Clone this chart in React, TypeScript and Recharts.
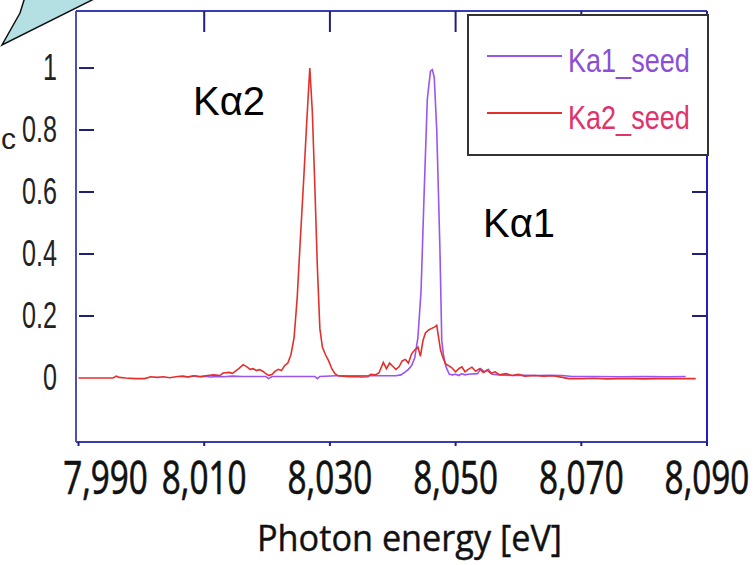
import React from "react";
import { Legend, Line, LineChart, XAxis, YAxis } from "recharts";

const xTicks = [7990, 8010, 8030, 8050, 8070, 8090];
const yTicks = [0, 0.2, 0.4, 0.6, 0.8, 1];
const seriesNames = ["Ka1_seed", "Ka2_seed"];
const seriesColors = ["#9a55ee", "#e2312c"];
const legendTextColors = ["#8b4fd6", "#e0336b"];

// Ka1 seed spectrum (photon energy in eV, normalised intensity)
const ka1Energy = [
  8006.6, 8007.5, 8008.3, 8009, 8010, 8011, 8012, 8013, 8014.5, 8016, 8018, 8019.8, 8020.2, 8020.8,
  8023, 8025, 8027.6, 8028, 8028.4, 8031, 8034, 8037, 8040.5, 8041.3, 8042, 8042.5, 8043, 8043.5,
  8044, 8044.5, 8045, 8045.5, 8046, 8046.3, 8046.6, 8047, 8047.5, 8047.8, 8048.1, 8048.5, 8049,
  8049.5, 8050, 8050.5, 8051, 8051.5, 8052, 8053.5, 8054, 8054.6, 8055.2, 8055.8, 8057, 8059, 8061,
  8063, 8065, 8067, 8068.5, 8072, 8076, 8080, 8084, 8086.6,
];
const ka1Value = [
  0.005, 0.004, 0.007, 0.004, 0.006, 0.003, 0.005, 0.004, 0.006, 0.005, 0.005, 0.005, -0.002, 0.005,
  0.005, 0.005, 0.005, -0.002, 0.005, 0.007, 0.007, 0.007, 0.007, 0.01, 0.02, 0.028, 0.04, 0.065,
  0.13, 0.28, 0.6, 0.9, 0.99, 0.995, 0.97, 0.8, 0.42, 0.12, 0.07, 0.035, 0.012,
  0.01, 0.012, 0.008, 0.014, 0.01, 0.012, 0.014, 0.03, 0.02, 0.028, 0.012, 0.01, 0.008, 0.009,
  0.008, 0.009, 0.008, 0.005, 0.005, 0.004, 0.005, 0.004, 0.005,
];

// Ka2 seed spectrum
const ka2Energy = [
  7990, 7991.5, 7993, 7994.5, 7995.5, 7996, 7996.5, 7997.5, 7999, 8000.5, 8001.5, 8002.5, 8003.5,
  8004.5, 8005.5, 8006.5, 8007.5, 8008.5, 8009.5, 8010.5, 8011.5, 8012.5, 8013, 8014, 8014.5, 8015.5,
  8016.2, 8016.8, 8017.3, 8017.8, 8018.3, 8018.8, 8019.3, 8019.8, 8020.3, 8020.8, 8021.3, 8021.8,
  8022.3, 8022.8, 8023.3, 8023.8, 8024.3, 8024.8, 8025.3, 8025.8, 8026.3, 8026.8, 8027.2, 8027.6,
  8028, 8028.4, 8028.8, 8029.3, 8029.8, 8030.3, 8030.8, 8031.3, 8032, 8033, 8034, 8035, 8036,
  8036.5, 8037.2, 8037.8, 8038.5, 8039, 8039.5, 8040, 8040.5, 8041, 8041.5, 8042, 8042.5, 8043,
  8043.5, 8044, 8044.4, 8044.8, 8045.2, 8045.7, 8046.2, 8046.7, 8047, 8047.3, 8047.6, 8048, 8048.4,
  8048.9, 8049.4, 8050, 8050.5, 8051, 8051.5, 8052, 8052.6, 8053.2, 8053.8, 8054.4, 8055, 8055.6,
  8056.3, 8057, 8058, 8059, 8060, 8061, 8062.5, 8064, 8065.5, 8067, 8068, 8070, 8072, 8074, 8076,
  8078, 8080, 8082, 8084, 8086, 8088.2,
];
const ka2Value = [
  0, 0, 0, 0, 0, 0.006, 0.002, 0, -0.002, -0.002, 0.004, 0.002, 0.004,
  0.001, 0.004, 0.006, 0.003, 0.007, 0.004, 0.008, 0.01, 0.008, 0.016, 0.018, 0.015, 0.03,
  0.043, 0.036, 0.028, 0.03, 0.024, 0.027, 0.022, 0.014, 0.008, 0.012, 0.022, 0.028,
  0.024, 0.04, 0.048, 0.075, 0.13, 0.26, 0.45, 0.63, 0.82, 1.0, 0.86, 0.62,
  0.36, 0.16, 0.1, 0.075, 0.055, 0.03, 0.014, 0.007, 0.006, 0.004, 0.005, 0.003, 0.004,
  0.012, 0.01, 0.016, 0.05, 0.03, 0.048, 0.038, 0.028, 0.036, 0.055, 0.06, 0.048, 0.078,
  0.09, 0.1, 0.07, 0.12, 0.145, 0.155, 0.16, 0.165, 0.17, 0.13, 0.09, 0.065, 0.045,
  0.04, 0.033, 0.02, 0.03, 0.036, 0.02, 0.028, 0.035, 0.022, 0.03, 0.018, 0.025, 0.015,
  0.02, 0.01, 0.014, 0.008, 0.012, 0.006, 0.008, 0.006, 0.007, 0.002, -0.002, -0.002, -0.001, -0.003, -0.002,
  -0.002, -0.003, -0.002, -0.002, -0.002, -0.002,
];

const ka1Data = ka1Energy.map((e, i) => ({ e, v: ka1Value[i] }));
const ka2Data = ka2Energy.map((e, i) => ({ e, v: ka2Value[i] }));

const axisColor = "#3c3cae";
const tickColor = "#20207a";
const xDomain = [7989.6, 8090];
const yDomain = [-0.2065, 1.184];

function BottomTick(props: any) {
  const { x, y, payload, index } = props;
  const shift = index === 0 ? 27 : 0;
  return (
    <g>
      <line x1={x} x2={x} y1={y} y2={y + 4} stroke={tickColor} strokeWidth={2} />
      <g transform={`translate(${x + shift},${y + 52}) scale(0.74,1)`}>
        <text
          textAnchor="middle"
          fontFamily="'Open Sans', sans-serif"
          fontSize={45}
          fill="#111"
          stroke="#111"
          strokeWidth={0.7}
        >
          {Number(payload.value).toLocaleString("en-US")}
        </text>
      </g>
    </g>
  );
}

function TopTick(props: any) {
  const { x, y, payload } = props;
  if (payload.value === 7990 || payload.value === 8090) return <g />;
  return <line x1={x} x2={x} y1={y} y2={y + 21} stroke={tickColor} strokeWidth={2} />;
}

function LeftTick(props: any) {
  const { x, y, payload } = props;
  return (
    <g>
      {payload.value !== 0 && (
        <line x1={x + 3} x2={x + 18} y1={y} y2={y} stroke={tickColor} strokeWidth={2} />
      )}
      <g transform={`translate(${x - 19},${y + 12}) scale(0.68,1)`}>
        <text textAnchor="end" fontFamily="'Liberation Sans', Arial, sans-serif" fontSize={37} fill="#222">
          {payload.value}
        </text>
      </g>
    </g>
  );
}

function RightTick(props: any) {
  const { x, y, payload } = props;
  if (payload.value === 0) return <g />;
  return <line x1={x - 15} x2={x} y1={y} y2={y} stroke={tickColor} strokeWidth={2} />;
}

function LegendBox(props: any) {
  const payload = props.payload || [];
  return (
    <svg width={242} height={142} style={{ display: "block" }}>
      <rect x={1} y={1} width={240} height={140} fill="#fff" stroke="#333" strokeWidth={2} />
      {payload.map((p: any, i: number) => (
        <g key={p.value}>
          <line x1={20} x2={95} y1={42 + i * 57} y2={42 + i * 57} stroke={p.color} strokeWidth={2} />
          <g transform={`translate(101,${58 + i * 57}) scale(0.82,1)`}>
            <text
              x={0}
              y={0}
              fontFamily="'Liberation Sans', Arial, sans-serif"
              fontSize={33}
              fill={legendTextColors[seriesNames.indexOf(p.value)]}
            >
              {p.value}
            </text>
          </g>
        </g>
      ))}
    </svg>
  );
}

export default function App() {
  return (
    <div style={{ position: "absolute", left: 0, top: 0, width: 754, height: 565, background: "#fff" }}>
      <LineChart width={754} height={565} margin={{ top: 10, right: 46, bottom: 0, left: 0 }}>
        <XAxis
          dataKey="e"
          type="number"
          domain={xDomain}
          ticks={xTicks}
          allowDataOverflow
          height={123}
          tickSize={0}
          tickMargin={0}
          tickLine={false}
          tick={<BottomTick />}
          axisLine={{ stroke: axisColor, strokeWidth: 2 }}
          interval={0}
        />
        <XAxis
          xAxisId="top"
          orientation="top"
          dataKey="e"
          type="number"
          domain={xDomain}
          ticks={xTicks}
          allowDataOverflow
          height={1}
          tickSize={0}
          tickMargin={0}
          tickLine={false}
          tick={<TopTick />}
          axisLine={{ stroke: axisColor, strokeWidth: 2 }}
          interval={0}
        />
        <YAxis
          type="number"
          domain={yDomain}
          ticks={yTicks}
          allowDataOverflow
          width={76}
          tickSize={0}
          tickMargin={0}
          tickLine={false}
          tick={<LeftTick />}
          axisLine={{ stroke: "#5050b0", strokeWidth: 2 }}
          interval={0}
        />
        <YAxis
          yAxisId="right"
          orientation="right"
          type="number"
          domain={yDomain}
          ticks={yTicks}
          allowDataOverflow
          width={1}
          tickSize={0}
          tickMargin={0}
          tickLine={false}
          tick={<RightTick />}
          axisLine={{ stroke: "#2020c0", strokeWidth: 2 }}
          interval={0}
        />
        <Line
          data={ka1Data}
          dataKey="v"
          name={seriesNames[0]}
          stroke={seriesColors[0]}
          strokeWidth={1.6}
          dot={false}
          type="linear"
          isAnimationActive={false}
        />
        <Line
          data={ka2Data}
          dataKey="v"
          name={seriesNames[1]}
          stroke={seriesColors[1]}
          strokeWidth={1.6}
          dot={false}
          type="linear"
          isAnimationActive={false}
        />
        <Legend
          layout="horizontal"
          verticalAlign="middle"
          align="center"
          content={<LegendBox />}
          wrapperStyle={{ position: "absolute", left: 467, top: 14, width: 242, height: 142 }}
        />
      </LineChart>
      <svg
        width={754}
        height={565}
        style={{ position: "absolute", left: 0, top: 0, pointerEvents: "none" }}
      >
        <polygon points="25,-3 20,13 2,45 98,-3" fill="#b4e0e4" stroke="#111" strokeWidth={1.5} />
        <text x={1} y={149} fontFamily="'Liberation Sans', Arial, sans-serif" fontSize={30} fill="#222">
          c
        </text>
        <text x={193} y={115} fontFamily="'Liberation Sans', Arial, sans-serif" fontSize={40} fill="#000">
          Kα2
        </text>
        <text x={483} y={237} fontFamily="'Liberation Sans', Arial, sans-serif" fontSize={40} fill="#000">
          Kα1
        </text>
        <text
          x={257}
          y={551}
          fontFamily="'Open Sans', sans-serif"
          fontSize={36}
          textLength={305}
          lengthAdjust="spacingAndGlyphs"
          fill="#111"
          stroke="#111"
          strokeWidth={0.4}
        >
          Photon energy [eV]
        </text>
      </svg>
    </div>
  );
}
